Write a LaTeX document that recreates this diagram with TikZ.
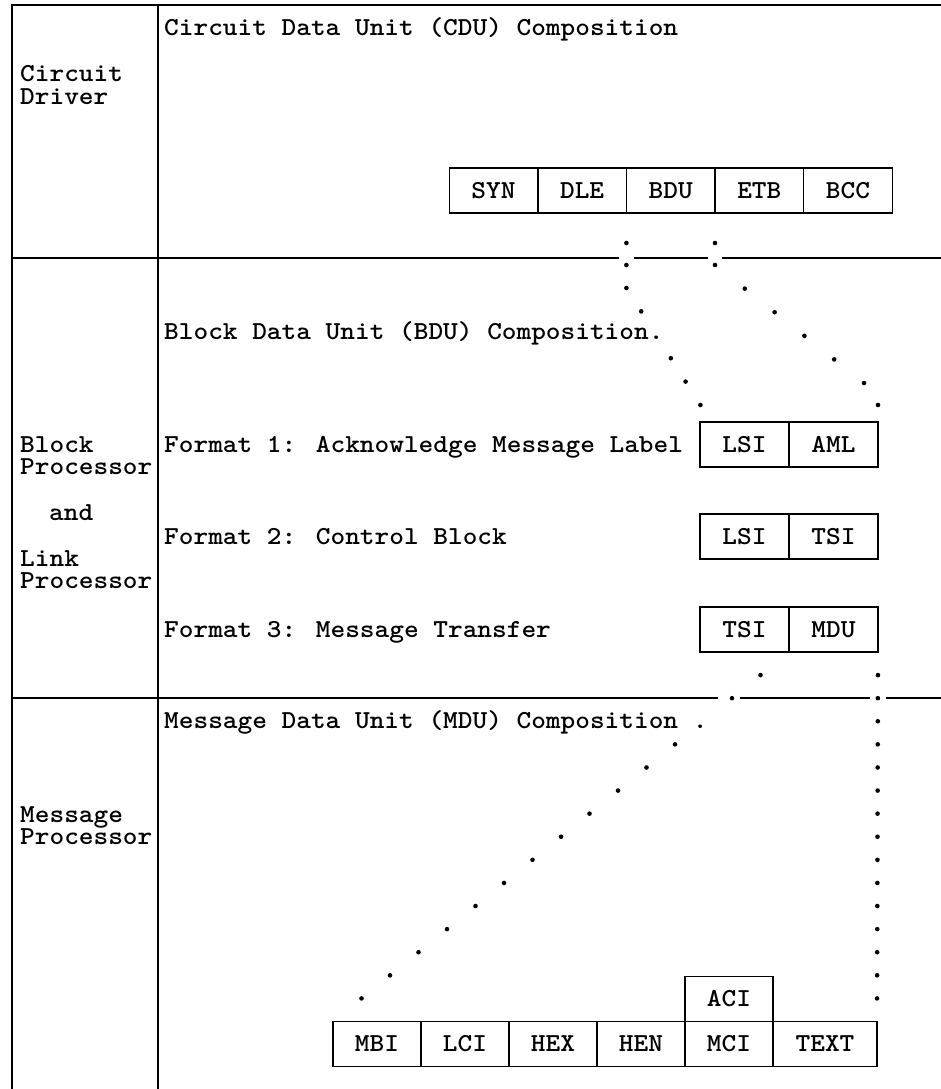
\documentclass[tikz,border=0pt]{standalone}
\usepackage{fontspec}
\usetikzlibrary{positioning,calc}
\newfontfamily\typew{lmmonolt10-bold}[Extension=.otf,FakeStretch=1.08]
% lines of a layer name, first baseline is the node's base
\newcommand\layerlines[1]{\vtop{\halign{##\hfil\cr#1\crcr}}}

\begin{document}
\begin{tikzpicture}[x=1pt,y=-1pt,
    frame/.style ={line width=1.6pt},
    field/.style ={rectangle, draw, line width=1.4pt, minimum width=88.6pt,
      minimum height=45pt, inner sep=0pt, outer sep=0pt},
    caption/.style ={anchor=base west, inner sep=0pt},
    every node/.append style={font=\typew\fontsize{25.9}{22.8}\selectfont}]
   \useasboundingbox (0,0) rectangle (941,1089);
   % frame and layer dividers
   \draw[frame] (941,5) -- (12,5) -- (12,1089);
   \draw[frame] (158,5) -- (158,1089);
   \draw[frame] (12,258) -- (619,258);
   \draw[frame] (634,258) -- (708,258);
   \draw[frame] (722,258) -- (941,258);
   \draw[frame] (12,698) -- (718,698);
   \draw[frame] (740,698) -- (870,698);
   \draw[frame] (886,698) -- (941,698);
   % layer names
   \node[caption] (driver) at (20,82) {\layerlines{Circuit\cr Driver}};
   \node[caption] (blockproc) at (20,452)
      {\layerlines{Block\cr Processor\cr\cr\hspace*{29pt}and\cr\cr Link\cr Processor}};
   \node[caption] (msgproc) at (20,822) {\layerlines{Message\cr Processor}};
   % headings
   \node[caption] (cduhead) at (164,36) {Circuit Data Unit (CDU) Composition};
   \node[caption] (bduhead) at (164,339) {Block Data Unit (BDU) Composition.};
   \node[caption] (fmtone) at (164,452) {Format 1: Acknowledge Message Label};
   \node[caption] (fmttwo) at (164,544) {Format 2: Control Block};
   \node[caption] (fmtthree) at (164,637) {Format 3: Message Transfer};
   \node[caption] (mduhead) at (164,728) {Message Data Unit (MDU) Composition .};
   % CDU
   \node[field] (syn) at (493.5,190.5) {SYN};
   \node[field, right=0pt of syn] (dle) {DLE};
   \node[field, right=0pt of dle] (bdu) {BDU};
   \node[field, right=0pt of bdu] (etb) {ETB};
   \node[field, right=0pt of etb] (bcc) {BCC};
   % BDU formats
   \node[field, minimum width=89pt] (lsia) at (744.5,444.5) {LSI};
   \node[field, minimum width=89pt, right=0pt of lsia] (aml) {AML};
   \node[field, minimum width=89pt] (lsib) at (744.5,536.5) {LSI};
   \node[field, minimum width=89pt, right=0pt of lsib] (tsib) {TSI};
   \node[field, minimum width=89pt] (tsic) at (744.5,629.5) {TSI};
   \node[field, minimum width=89pt, right=0pt of tsic] (mdu) {MDU};
   % MDU
   \node[field, minimum width=88pt] (mbi) at (377,1044) {MBI};
   \node[field, minimum width=88pt, right=0pt of mbi] (lci) {LCI};
   \node[field, minimum width=88pt, right=0pt of lci] (hex) {HEX};
   \node[field, minimum width=88pt, right=0pt of hex] (hen) {HEN};
   \node[field, minimum width=88pt, right=0pt of hen] (mci) {MCI};
   \node[field, minimum width=104pt, right=0pt of mci] (textf) {TEXT};
   \node[field, minimum width=88pt, above=0pt of mci] (aci) {ACI};
   % dotted expansion of BDU
   \foreach \d in {30,52,75}
      \fill ($(bdu.south west)+(0,\d)$) circle (2.3pt);
   \coordinate (bendl) at ($(bdu.south west)+(0,75)$);
   \foreach \i in {1,3,4,5}
      \fill ($(bendl)+(14.8*\i,23.4*\i)$) circle (2.3pt);
   \foreach \d in {30,52}
      \fill ($(bdu.south east)+(0,\d)$) circle (2.3pt);
   \coordinate (bendr) at ($(bdu.south east)+(0,52)$);
   \foreach \i in {1,...,5}
      \fill ($(bendr)+(29.8*\i,23.6*\i)$) circle (2.3pt);
   \fill ($(aml.north east)+(0,-17)$) circle (2.3pt);
   % dotted expansion of MDU
   \foreach \i in {1,2,4,5,...,15}
      \fill ($(mdu.south west)!\i/16!(mbi.north west)$) circle (2.3pt);
   \foreach \i in {1,...,15}
      \fill ($(mdu.south east)!\i/16!(textf.north east)$) circle (2.3pt);
\end{tikzpicture}
\end{document}
